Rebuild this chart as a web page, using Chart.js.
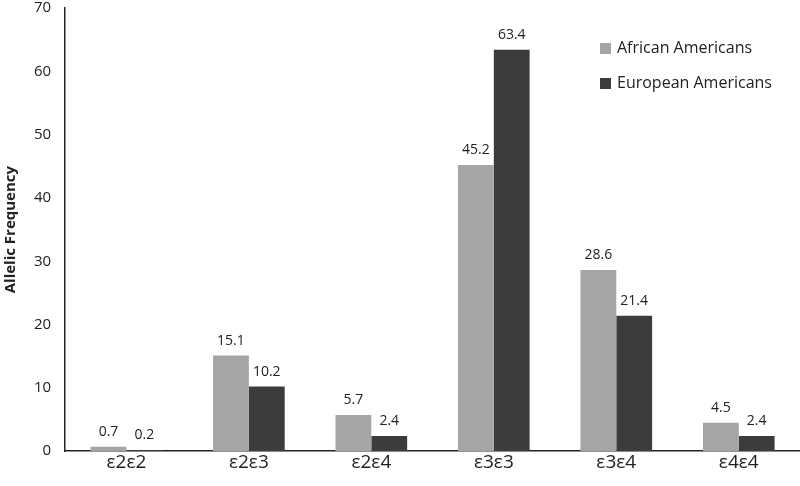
<!DOCTYPE html>
<html lang="en">
<head>
  <meta charset="UTF-8">
  <title>Allelic Frequency</title>
  <script src="https://cdn.jsdelivr.net/npm/chart.js"></script>
  <style>
    body { margin: 0; background: #fff; }
    #wrap { width: 800px; height: 486px; }
  </style>
</head>
<body>
  <div id="wrap"><canvas id="grafico" width="800" height="486"></canvas></div>
  <script>
    const genotypes = ['ε2ε2', 'ε2ε3', 'ε2ε4', 'ε3ε3', 'ε3ε4', 'ε4ε4'];
    const africanAmericans = [0.7, 15.1, 5.7, 45.2, 28.6, 4.5];
    const europeanAmericans = [0.2, 10.2, 2.4, 63.4, 21.4, 2.4];
    const yTicks = [0, 10, 20, 30, 40, 50, 60, 70];

    const fontFamily = "'Open Sans', 'Liberation Sans', sans-serif";

    // labels above each bar
    const valueLabels = {
      id: 'valueLabels',
      afterDatasetsDraw(chart) {
        const ctx = chart.ctx;
        ctx.save();
        ctx.font = '14px ' + fontFamily;
        ctx.fillStyle = '#222';
        ctx.textAlign = 'center';
        ctx.textBaseline = 'bottom';
        chart.data.datasets.forEach((ds, i) => {
          chart.getDatasetMeta(i).data.forEach((bar, j) => {
            ctx.fillText(ds.data[j].toFixed(1), bar.x, bar.y - 8);
          });
        });
        ctx.restore();
      }
    };

    // legend inside the plot, top right
    const innerLegend = {
      id: 'innerLegend',
      afterDraw(chart) {
        const ctx = chart.ctx;
        ctx.save();
        ctx.font = '16px ' + fontFamily;
        ctx.textBaseline = 'middle';
        chart.data.datasets.forEach((ds, i) => {
          const y = 48 + i * 35;
          ctx.fillStyle = ds.backgroundColor;
          ctx.fillRect(600, y - 5, 11, 11);
          ctx.fillStyle = '#222';
          ctx.fillText(ds.label, 617, y);
        });
        ctx.restore();
      }
    };

    new Chart(document.getElementById('grafico'), {
      type: 'bar',
      data: {
        labels: genotypes,
        datasets: [
          { label: 'African Americans', data: africanAmericans, backgroundColor: '#a5a5a5' },
          { label: 'European Americans', data: europeanAmericans, backgroundColor: '#3c3c3c' }
        ]
      },
      options: {
        responsive: false,
        animation: false,
        layout: { padding: { top: 8, right: 0, left: 0, bottom: 12 } },
        datasets: { bar: { barPercentage: 1, categoryPercentage: 0.585 } },
        plugins: { legend: { display: false }, tooltip: { enabled: false } },
        scales: {
          x: {
            grid: { display: false, drawTicks: false },
            border: { color: '#222', width: 1.5 },
            ticks: { font: { size: 19, family: fontFamily }, color: '#222', padding: 0 }
          },
          y: {
            min: 0,
            max: 70,
            afterBuildTicks(axis) { axis.ticks = yTicks.map(v => ({ value: v })); },
            afterFit(axis) { axis.paddingTop = 0; axis.paddingBottom = 0; },
            grid: { display: false, drawTicks: false },
            border: { color: '#222', width: 1.5 },
            ticks: { font: { size: 15, family: fontFamily }, color: '#222', padding: 14 },
            title: {
              display: true,
              text: 'Allelic Frequency',
              font: { size: 15, weight: 'bold', family: fontFamily },
              color: '#222',
              padding: { top: 2, bottom: 0 }
            }
          }
        }
      },
      plugins: [valueLabels, innerLegend]
    });
  </script>
</body>
</html>
